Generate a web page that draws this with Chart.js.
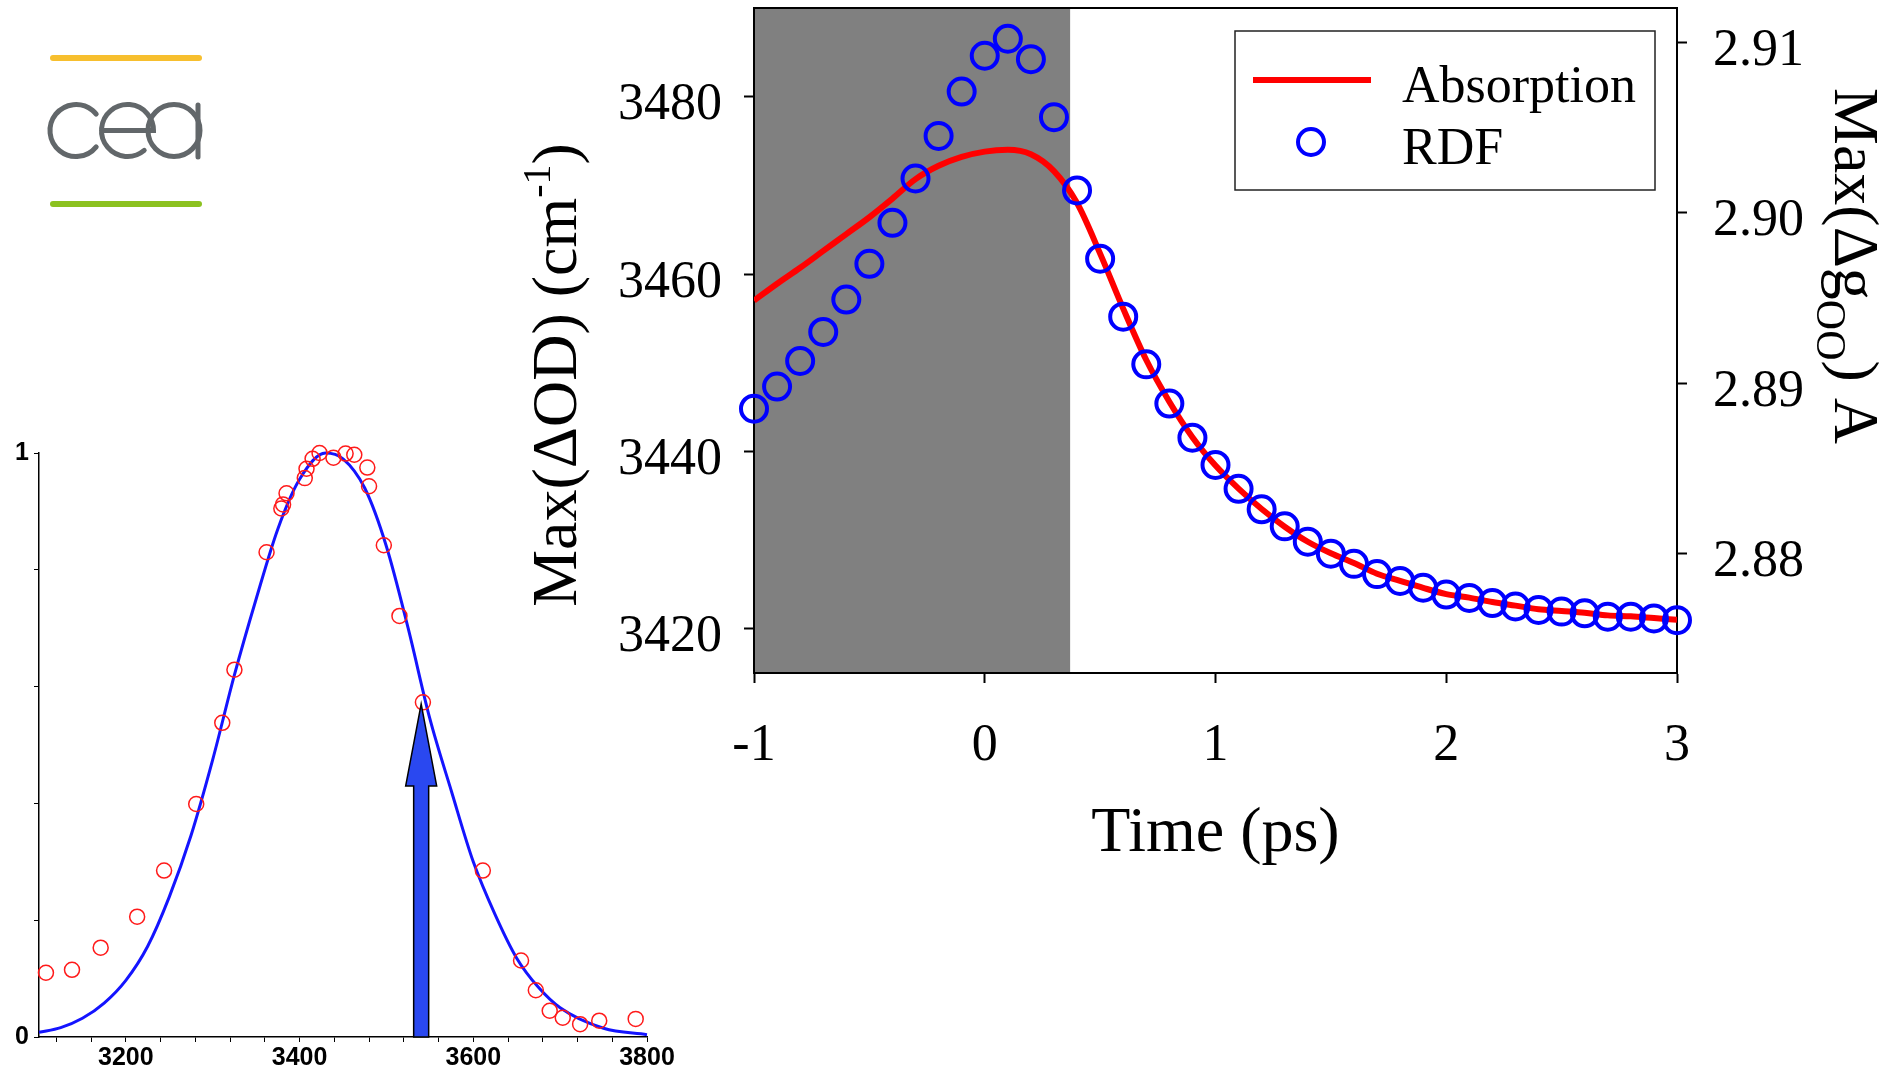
<!DOCTYPE html>
<html>
<head>
<meta charset="utf-8">
<title>Max(ΔOD) and Max(Δg_OO) vs time</title>
<script src="https://cdn.jsdelivr.net/npm/chart.js@4.4.1/dist/chart.umd.min.js"></script>
<style>
  html, body { margin: 0; padding: 0; background: #fff; }
  body { width: 1896px; height: 1070px; position: relative; overflow: hidden; }
  #logo { position: absolute; left: 0; top: 0; }
  #specChart { position: absolute; left: 0; top: 420px; }
  #mainChart { position: absolute; left: 480px; top: 0; }
</style>
</head>
<body>
<canvas id="logo" width="260" height="230"></canvas>
<canvas id="specChart" width="680" height="650"></canvas>
<canvas id="mainChart" width="1416" height="900"></canvas>

<script>
// ---- main panel data ----
const timePs = [-1.0, -0.9, -0.8, -0.7, -0.6, -0.5, -0.4, -0.3, -0.2, -0.1, 0.0,
  0.1, 0.2, 0.3, 0.4, 0.5, 0.6, 0.7, 0.8, 0.9, 1.0,
  1.1, 1.2, 1.3, 1.4, 1.5, 1.6, 1.7, 1.8, 1.9, 2.0,
  2.1, 2.2, 2.3, 2.4, 2.5, 2.6, 2.7, 2.8, 2.9, 3.0];
const absorption = [3457.0, 3458.9, 3460.7, 3462.6, 3464.5, 3466.4, 3468.5, 3470.7, 3472.2, 3473.2, 3473.8,
  3474.0, 3473.5, 3471.6, 3468.0, 3462.3, 3456.1, 3450.3, 3445.6, 3441.6, 3438.4,
  3435.8, 3433.5, 3431.5, 3429.8, 3428.5, 3427.4, 3426.2, 3425.4, 3424.6, 3423.9,
  3423.5, 3423.0, 3422.6, 3422.2, 3422.0, 3421.8, 3421.5, 3421.4, 3421.2, 3421.0];
const rdf = [2.8885, 2.8898, 2.8913, 2.8930, 2.8949, 2.8970, 2.8994, 2.9020, 2.9045, 2.9071, 2.9092,
  2.9102, 2.9090, 2.9056, 2.9013, 2.8973, 2.8939, 2.8911, 2.8888, 2.8868, 2.8852,
  2.8838, 2.8826, 2.8816, 2.8807, 2.8800, 2.8794, 2.8788, 2.8784, 2.8780, 2.8776,
  2.8774, 2.8771, 2.8769, 2.8767, 2.8766, 2.8765, 2.8763, 2.8763, 2.8762, 2.8761];
const timeTicks = [-1, 0, 1, 2, 3];
const odTicks = [3420, 3440, 3460, 3480];
const gooTicks = [2.88, 2.89, 2.90, 2.91];
const pumpWindowEnd = 0.37;

// ---- inset spectrum data ----
const specCurveX = [3100, 3125, 3150, 3175, 3200, 3225, 3250, 3275, 3300, 3325, 3350, 3375, 3400, 3430,
  3450, 3475, 3500, 3525, 3550, 3575, 3600, 3625, 3650, 3675, 3700, 3750, 3800];
const specCurveY = [0.008, 0.016, 0.032, 0.058, 0.097, 0.155, 0.24, 0.345, 0.475, 0.62, 0.75, 0.87, 0.955, 1.0,
  0.99, 0.94, 0.84, 0.70, 0.545, 0.42, 0.30, 0.21, 0.135, 0.085, 0.05, 0.015, 0.004];
const specPointX = [3108, 3138, 3171, 3213, 3244, 3281, 3311, 3325, 3362, 3379, 3381, 3385, 3406, 3408, 3415, 3423,
  3439, 3453, 3463, 3478, 3480, 3497, 3515, 3542, 3611, 3655, 3672, 3688, 3703, 3723, 3745, 3787];
const specPointY = [0.110, 0.115, 0.153, 0.206, 0.285, 0.399, 0.538, 0.629, 0.830, 0.905, 0.912, 0.931, 0.957, 0.973, 0.990, 1.0,
  0.992, 0.999, 0.997, 0.975, 0.943, 0.842, 0.721, 0.573, 0.285, 0.131, 0.080, 0.045, 0.033, 0.022, 0.028, 0.031];
const specXTicks = [3120, 3160, 3200, 3240, 3280, 3320, 3360, 3400, 3440, 3480, 3520, 3560, 3600, 3640, 3680, 3720, 3760, 3800];
const specXLabels = [3200, 3400, 3600, 3800];
const specYTicks = [0, 0.2, 0.4, 0.6, 0.8, 1];
const specYLabels = [0, 1];
const arrowAt = 3540;
const arrowTip = 0.57;
const arrowHeadBase = 0.43;

const SERIF = "'Liberation Serif', 'Times New Roman', serif";
const SANS = "'Liberation Sans Narrow', 'Liberation Sans', Arial, sans-serif";

function fixTicks(values) {
  return (scale) => {
    scale.ticks = values.map((v) => ({ value: v }));
  };
}

// pin an axis to a fixed thickness and drop the label overflow padding
function fixedSize(size) {
  return (scale) => {
    if (scale.isHorizontal()) {
      scale.height = size;
      scale.paddingLeft = 0;
      scale.paddingRight = 0;
    } else {
      scale.width = size;
      scale.paddingTop = 0;
      scale.paddingBottom = 0;
    }
  };
}

function drawRotatedTitle(ctx, x, y, angle, parts) {
  ctx.save();
  ctx.translate(x, y);
  ctx.rotate(angle);
  ctx.textAlign = "left";
  ctx.textBaseline = "alphabetic";
  let total = 0;
  parts.forEach((p) => {
    ctx.font = `${p.size}px ${SERIF}`;
    total += ctx.measureText(p.text).width;
  });
  let cx = -total / 2;
  parts.forEach((p) => {
    ctx.font = `${p.size}px ${SERIF}`;
    ctx.fillText(p.text, cx, p.dy);
    cx += ctx.measureText(p.text).width;
  });
  ctx.restore();
}

const mainDecor = {
  id: "mainDecor",
  beforeDatasetsDraw(chart) {
    const { ctx, chartArea, scales } = chart;
    const x0 = scales.x.getPixelForValue(timePs[0]);
    const x1 = scales.x.getPixelForValue(pumpWindowEnd);
    ctx.save();
    ctx.fillStyle = "#808080";
    ctx.fillRect(x0, chartArea.top, x1 - x0, chartArea.bottom - chartArea.top);
    ctx.strokeStyle = "#000";
    ctx.lineWidth = 2;
    ctx.strokeRect(chartArea.left, chartArea.top, chartArea.right - chartArea.left, chartArea.bottom - chartArea.top);
    ctx.restore();
  },
  afterDraw(chart) {
    const { ctx, chartArea } = chart;
    ctx.save();
    ctx.fillStyle = "#000";

    // x title
    ctx.font = `64px ${SERIF}`;
    ctx.textAlign = "center";
    ctx.textBaseline = "alphabetic";
    ctx.fillText("Time (ps)", (chartArea.left + chartArea.right) / 2, 851);

    // left title
    drawRotatedTitle(ctx, 96, 375, -Math.PI / 2, [
      { text: "Max(ΔOD) (cm", size: 64, dy: 0 },
      { text: "-1", size: 40, dy: -26 },
      { text: ")", size: 64, dy: 0 },
    ]);

    // right title
    drawRotatedTitle(ctx, 1355, 266, Math.PI / 2, [
      { text: "Max(Δg", size: 64, dy: 0 },
      { text: "OO", size: 42, dy: 18 },
      { text: ") A", size: 64, dy: 0 },
    ]);

    // legend
    const bx = chartArea.right - 442;
    const by = chartArea.top + 23;
    ctx.fillStyle = "#fff";
    ctx.fillRect(bx, by, 420, 159);
    ctx.strokeStyle = "#222";
    ctx.lineWidth = 1.5;
    ctx.strokeRect(bx, by, 420, 159);

    ctx.strokeStyle = "#ff0000";
    ctx.lineWidth = 6;
    ctx.beginPath();
    ctx.moveTo(bx + 18, by + 49);
    ctx.lineTo(bx + 136, by + 49);
    ctx.stroke();

    ctx.strokeStyle = "#0000ff";
    ctx.lineWidth = 4;
    ctx.beginPath();
    ctx.arc(bx + 76, by + 111, 13, 0, Math.PI * 2);
    ctx.stroke();

    ctx.fillStyle = "#000";
    ctx.font = `52px ${SERIF}`;
    ctx.textAlign = "left";
    ctx.fillText("Absorption", bx + 167, by + 71);
    ctx.fillText("RDF", bx + 167, by + 133);
    ctx.restore();
  },
};

const serifTicks = {
  font: { family: SERIF, size: 52 },
  color: "#000",
};

new Chart(document.getElementById("mainChart"), {
  type: "line",
  data: {
    datasets: [
      {
        label: "RDF",
        data: timePs.map((t, i) => ({ x: t, y: rdf[i] })),
        yAxisID: "y1",
        showLine: false,
        pointRadius: 13,
        pointBorderWidth: 4,
        pointBorderColor: "#0000ff",
        pointBackgroundColor: "rgba(0,0,0,0)",
        clip: false,
        order: 0,
      },
      {
        label: "Absorption",
        data: timePs.map((t, i) => ({ x: t, y: absorption[i] })),
        yAxisID: "y",
        borderColor: "#ff0000",
        borderWidth: 6,
        pointRadius: 0,
        fill: false,
        cubicInterpolationMode: "monotone",
        order: 1,
      },
    ],
  },
  options: {
    responsive: false,
    animation: false,
    events: [],
    layout: { autoPadding: false, padding: { top: 8, left: 0, right: 0, bottom: 0 } },
    plugins: {
      legend: { display: false },
      tooltip: { enabled: false },
    },
    scales: {
      x: {
        type: "linear",
        min: -1,
        max: 3,
        afterBuildTicks: fixTicks(timeTicks),
        afterFit: fixedSize(227),
        ticks: { ...serifTicks, padding: 32, maxRotation: 0, callback: (v) => String(v) },
        grid: { display: true, drawOnChartArea: false, tickLength: 10, tickColor: "#000", tickWidth: 2 },
        border: { display: true, color: "#000", width: 2 },
      },
      y: {
        position: "left",
        min: 3415,
        max: 3490,
        afterBuildTicks: fixTicks(odTicks),
        afterFit: fixedSize(274),
        ticks: { ...serifTicks, padding: 22, labelOffset: 9, callback: (v) => String(v) },
        grid: { display: true, drawOnChartArea: false, tickLength: 10, tickColor: "#000", tickWidth: 2 },
        border: { display: true, color: "#000", width: 2 },
      },
      y1: {
        position: "right",
        min: 2.873,
        max: 2.912,
        afterBuildTicks: fixTicks(gooTicks),
        afterFit: fixedSize(219),
        ticks: { ...serifTicks, padding: 26, labelOffset: 9, callback: (v) => v.toFixed(2) },
        grid: { display: true, drawOnChartArea: false, tickLength: 10, tickColor: "#000", tickWidth: 2 },
        border: { display: true, color: "#000", width: 2 },
      },
    },
  },
  plugins: [mainDecor],
});

// ---- inset spectrum ----
const specArrow = {
  id: "specArrow",
  afterDatasetsDraw(chart) {
    const { ctx, scales } = chart;
    const cx = scales.x.getPixelForValue(arrowAt);
    const yTip = scales.y.getPixelForValue(arrowTip);
    const yHead = scales.y.getPixelForValue(arrowHeadBase);
    const yBot = scales.y.getPixelForValue(0);
    ctx.save();
    ctx.beginPath();
    ctx.moveTo(cx - 7.5, yBot);
    ctx.lineTo(cx - 7.5, yHead);
    ctx.lineTo(cx - 15.5, yHead);
    ctx.lineTo(cx, yTip);
    ctx.lineTo(cx + 15.5, yHead);
    ctx.lineTo(cx + 7.5, yHead);
    ctx.lineTo(cx + 7.5, yBot);
    ctx.closePath();
    ctx.fillStyle = "#2a48f0";
    ctx.fill();
    ctx.strokeStyle = "#000";
    ctx.lineWidth = 1.5;
    ctx.stroke();
    ctx.restore();
  },
};

const sansTicks = {
  font: { family: SANS, size: 25, weight: "bold" },
  color: "#000",
};

new Chart(document.getElementById("specChart"), {
  type: "line",
  data: {
    datasets: [
      {
        label: "data",
        data: specPointX.map((x, i) => ({ x, y: specPointY[i] })),
        showLine: false,
        pointRadius: 7.5,
        pointBorderWidth: 1.5,
        pointBorderColor: "#ff1a1a",
        pointBackgroundColor: "rgba(0,0,0,0)",
        clip: false,
        order: 0,
      },
      {
        label: "fit",
        data: specCurveX.map((x, i) => ({ x, y: specCurveY[i] })),
        borderColor: "#1414ff",
        borderWidth: 3,
        pointRadius: 0,
        fill: false,
        cubicInterpolationMode: "monotone",
        clip: false,
        order: 1,
      },
    ],
  },
  options: {
    responsive: false,
    animation: false,
    events: [],
    layout: { padding: { top: 33, right: 33, left: 0, bottom: 0 } },
    plugins: {
      legend: { display: false },
      tooltip: { enabled: false },
    },
    scales: {
      x: {
        type: "linear",
        min: 3100,
        max: 3800,
        afterBuildTicks: fixTicks(specXTicks),
        afterFit(scale) { scale.height = 33; },
        ticks: { ...sansTicks, padding: 1, maxRotation: 0, autoSkip: false,
          callback: (v) => (specXLabels.includes(v) ? String(v) : "") },
        grid: { display: true, drawOnChartArea: false, tickLength: 5, tickColor: "#000", tickWidth: 1 },
        border: { display: true, color: "#000", width: 1.5 },
      },
      y: {
        min: 0,
        max: 1,
        afterBuildTicks: fixTicks(specYTicks),
        afterFit(scale) { scale.width = 39; },
        ticks: { ...sansTicks, padding: 5, autoSkip: false,
          callback: (v) => (specYLabels.includes(v) ? String(v) : "") },
        grid: { display: true, drawOnChartArea: false, tickLength: 5, tickColor: "#000", tickWidth: 1 },
        border: { display: true, color: "#000", width: 1.5 },
      },
    },
  },
  plugins: [specArrow],
});

// ---- cea logo ----
(function drawLogo() {
  const ctx = document.getElementById("logo").getContext("2d");
  ctx.lineCap = "round";
  ctx.lineWidth = 6;
  ctx.strokeStyle = "#f7bf2e";
  ctx.beginPath();
  ctx.moveTo(53, 58);
  ctx.lineTo(199, 58);
  ctx.stroke();
  ctx.strokeStyle = "#8cc220";
  ctx.beginPath();
  ctx.moveTo(53, 204);
  ctx.lineTo(199, 204);
  ctx.stroke();

  const r = 26;
  const cy = 130.5;
  const deg = Math.PI / 180;
  ctx.strokeStyle = "#62676a";
  ctx.lineWidth = 5;
  // c
  ctx.beginPath();
  ctx.arc(76, cy, r, 39 * deg, 321 * deg);
  ctx.stroke();
  // e
  ctx.beginPath();
  ctx.arc(127.5, cy, r, 50 * deg, 360 * deg);
  ctx.lineTo(127.5 - r, cy);
  ctx.stroke();
  // a
  ctx.beginPath();
  ctx.arc(174, cy, r, 0, Math.PI * 2);
  ctx.stroke();
  ctx.beginPath();
  ctx.moveTo(198, 105);
  ctx.lineTo(198, 157);
  ctx.stroke();
})();
</script>
</body>
</html>
